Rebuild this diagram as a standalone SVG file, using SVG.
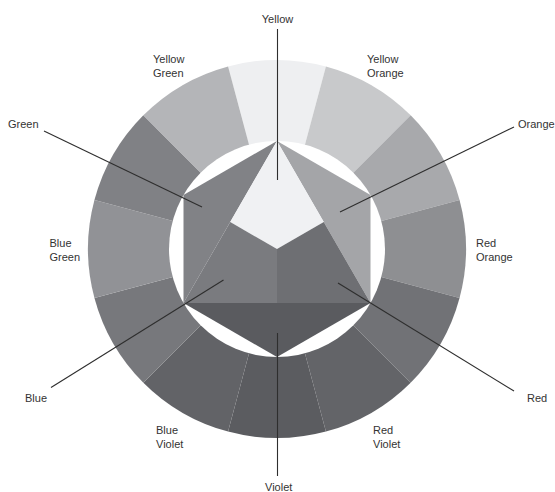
<svg xmlns="http://www.w3.org/2000/svg" width="555" height="492" viewBox="0 0 555 492">
<style>
text{font-family:"Liberation Sans",Arial,sans-serif;font-size:11px;fill:#333}
.lead{stroke:#2e2e2e;stroke-width:1.1;fill:none}
</style>
<rect width="555" height="492" fill="#fff"/>
<g id="ring">
<g id="seg-yellow"><path d="M277 249 L228.083 66.44 A189 189 0 0 1 325.917 66.44 Z" fill="#eeeff1"/></g>
<g id="seg-yellow-orange"><path d="M277 249 L325.917 66.44 A189 189 0 0 1 410.643 115.357 Z" fill="#c8c9cb"/></g>
<g id="seg-orange"><path d="M277 249 L410.643 115.357 A189 189 0 0 1 459.56 200.083 Z" fill="#a8a9ac"/></g>
<g id="seg-red-orange"><path d="M277 249 L459.56 200.083 A189 189 0 0 1 459.56 297.917 Z" fill="#8e8f92"/></g>
<g id="seg-red"><path d="M277 249 L459.56 297.917 A189 189 0 0 1 410.643 382.643 Z" fill="#717276"/></g>
<g id="seg-red-violet"><path d="M277 249 L410.643 382.643 A189 189 0 0 1 325.917 431.56 Z" fill="#636468"/></g>
<g id="seg-violet"><path d="M277 249 L325.917 431.56 A189 189 0 0 1 228.083 431.56 Z" fill="#5b5c60"/></g>
<g id="seg-blue-violet"><path d="M277 249 L228.083 431.56 A189 189 0 0 1 143.357 382.643 Z" fill="#626367"/></g>
<g id="seg-blue"><path d="M277 249 L143.357 382.643 A189 189 0 0 1 94.44 297.917 Z" fill="#77787c"/></g>
<g id="seg-blue-green"><path d="M277 249 L94.44 297.917 A189 189 0 0 1 94.44 200.083 Z" fill="#919296"/></g>
<g id="seg-green"><path d="M277 249 L94.44 200.083 A189 189 0 0 1 143.357 115.357 Z" fill="#808185"/></g>
<g id="seg-yellow-green"><path d="M277 249 L143.357 115.357 A189 189 0 0 1 228.083 66.44 Z" fill="#b4b5b8"/></g>
<circle cx="277" cy="249" r="108" fill="#fff"/>
</g>
<g id="hexagon">
<g id="tri-orange"><polygon points="277,141 370.531,195 370.531,303" fill="#a4a5a8"/></g>
<g id="tri-green"><polygon points="277,141 183.469,195 183.469,303" fill="#818286"/></g>
<g id="tri-violet"><polygon points="183.469,303 277,357 370.531,303" fill="#5a5b5f"/></g>
<g id="part-yellow"><polygon points="277,141 230.23,222 277,249 323.77,222" fill="#f0f1f3"/></g>
<g id="part-red"><polygon points="277,249 323.77,222 370.531,303 277,303" fill="#6e6f73"/></g>
<g id="part-blue"><polygon points="277,249 230.23,222 183.469,303 277,303" fill="#7a7b7f"/></g>
</g>
<g id="connectors">
<line class="lead" x1="277.5" y1="29" x2="277.5" y2="180"/>
<line class="lead" x1="44" y1="131" x2="202" y2="207"/>
<line class="lead" x1="514" y1="127" x2="340" y2="212"/>
<line class="lead" x1="51" y1="387.5" x2="223.5" y2="280"/>
<line class="lead" x1="514" y1="391" x2="338" y2="283"/>
<line class="lead" x1="277.5" y1="333" x2="277.5" y2="476"/>
</g>
<g id="labels">
<g id="label-yellow"><text x="277.5" y="23" text-anchor="middle">Yellow</text></g>
<g id="label-yellow-green"><text x="153" y="63">Yellow</text><text x="153" y="77">Green</text></g>
<g id="label-yellow-orange"><text x="367" y="63">Yellow</text><text x="367" y="77">Orange</text></g>
<g id="label-green"><text x="8" y="128">Green</text></g>
<g id="label-orange"><text x="518" y="128">Orange</text></g>
<g id="label-blue-green"><text x="49.5" y="247">Blue</text><text x="49.5" y="261">Green</text></g>
<g id="label-red-orange"><text x="476" y="247">Red</text><text x="476" y="261">Orange</text></g>
<g id="label-blue"><text x="25" y="402">Blue</text></g>
<g id="label-red"><text x="527" y="402">Red</text></g>
<g id="label-blue-violet"><text x="156" y="434">Blue</text><text x="156" y="448">Violet</text></g>
<g id="label-red-violet"><text x="373" y="434">Red</text><text x="373" y="448">Violet</text></g>
<g id="label-violet"><text x="265" y="491">Violet</text></g>
</g>
</svg>
